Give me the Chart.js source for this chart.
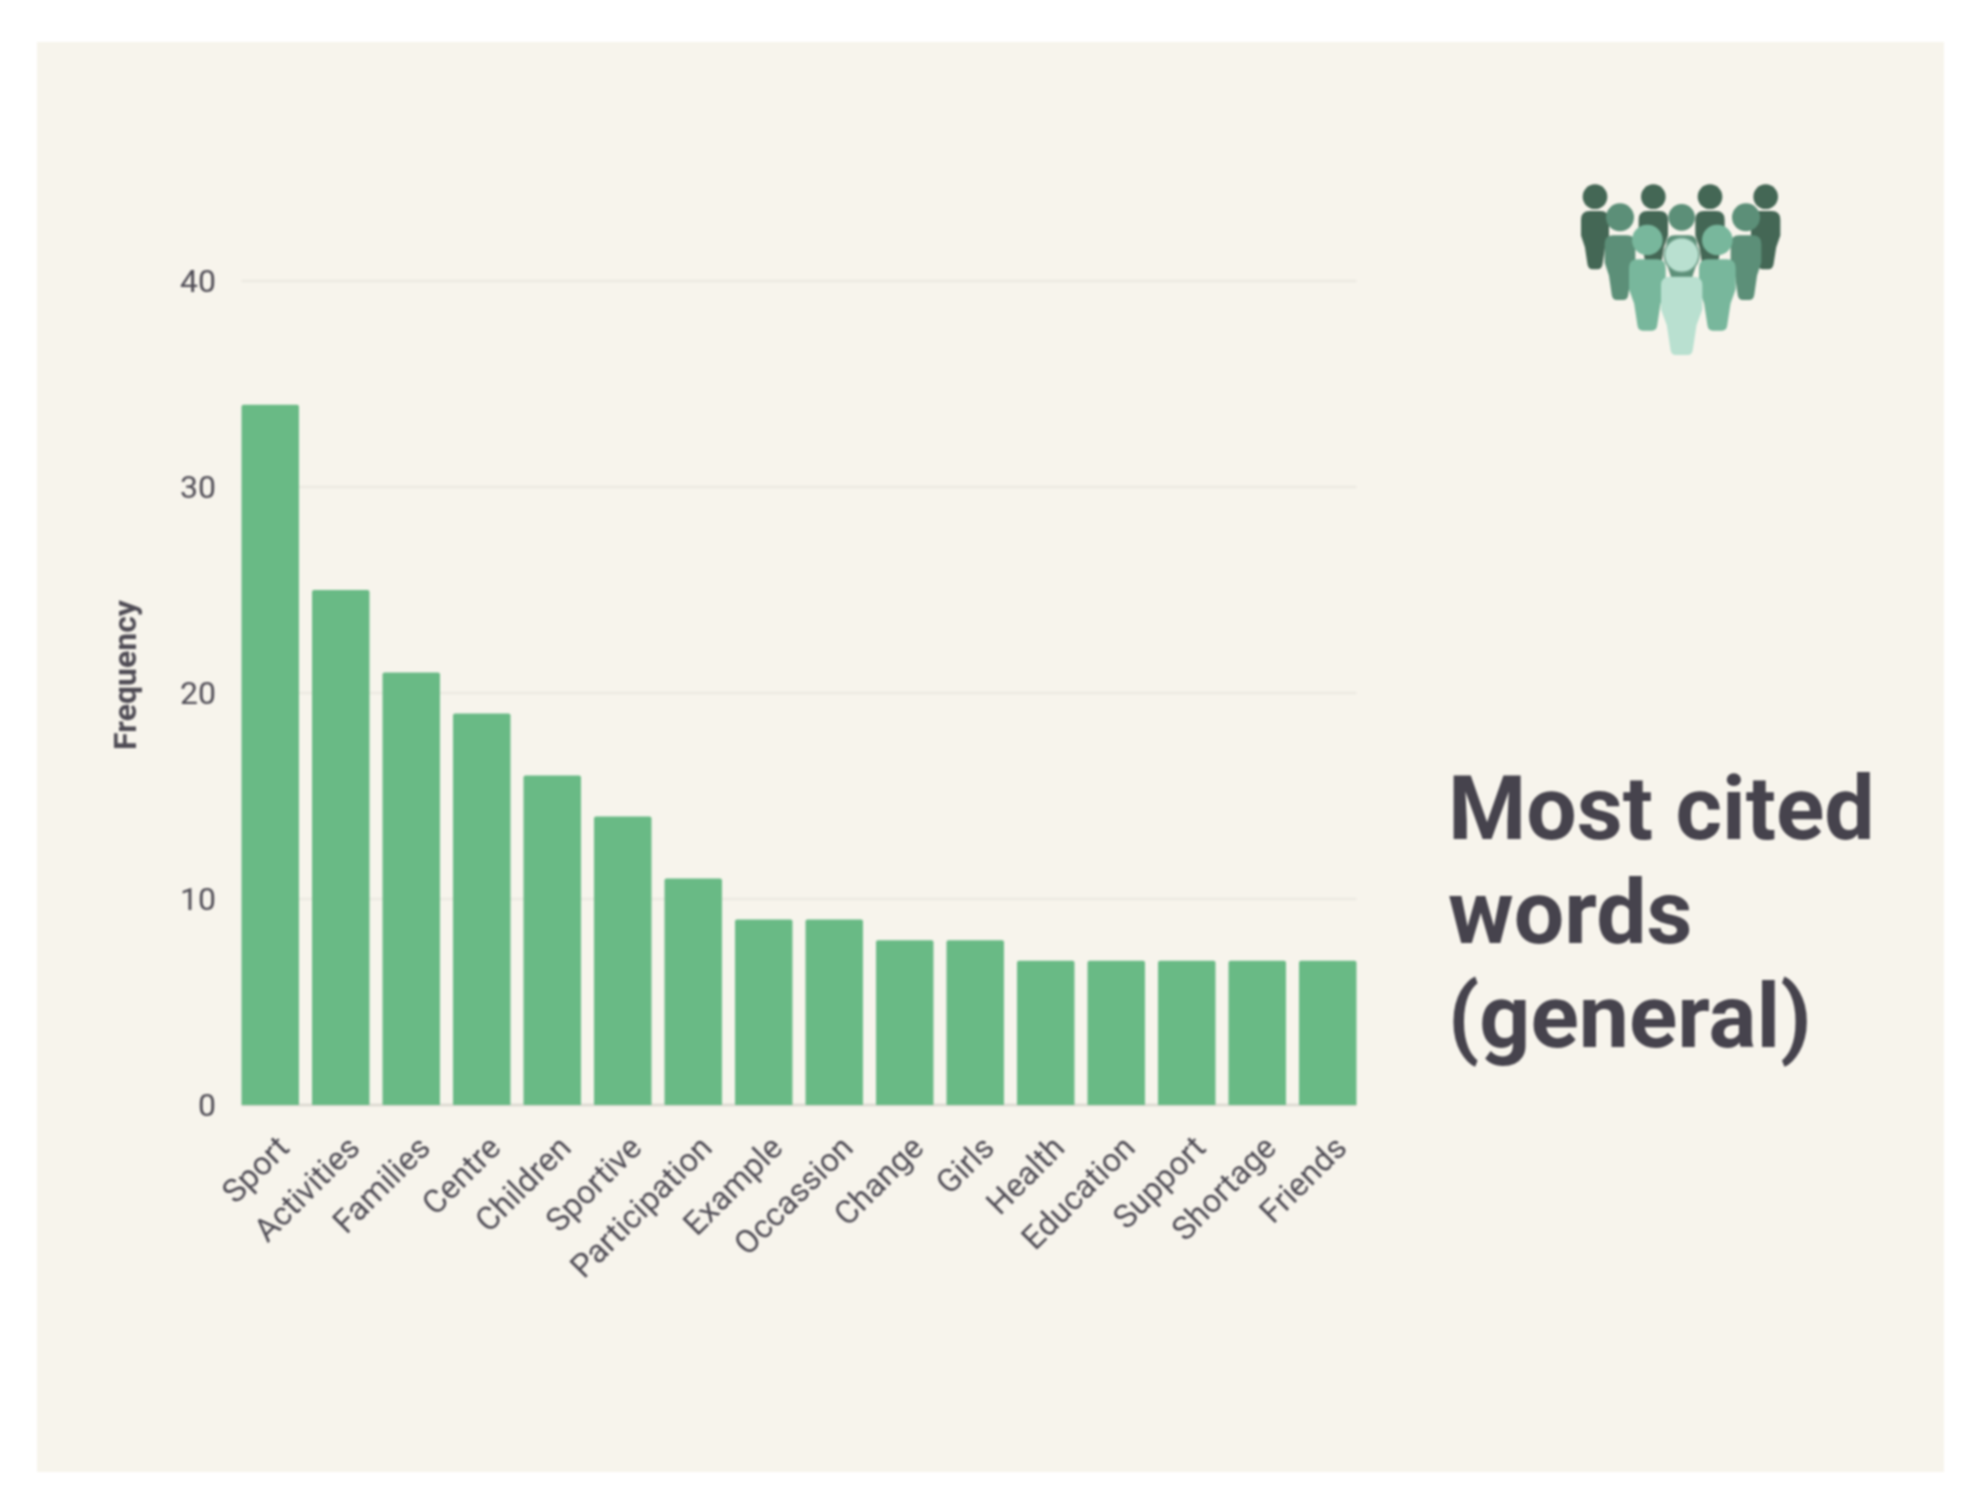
<!DOCTYPE html>
<html>
<head>
<meta charset="utf-8">
<title>Most cited words (general)</title>
<script src="https://cdn.jsdelivr.net/npm/chart.js@4"></script>
<style>
    html, body { margin: 0; padding: 0; background: #ffffff; }
    #page { position: relative; width: 1983px; height: 1510px; overflow: hidden; filter: blur(0.9px); }
    #panel { position: absolute; left: 37px; top: 42px; width: 1907px; height: 1430px; background: #f7f4ec; }
    #chart { position: absolute; left: 0; top: 0; }
    #icon { position: absolute; left: 1540px; top: 160px; width: 280px; height: 210px; }
    #heading {
        position: absolute; left: 1448px; top: 757px;
        font: 700 89.5px/104px Roboto, sans-serif; color: #46434d;
    }
</style>
</head>
<body>
<div id="page">
    <div id="panel"></div>
    <canvas id="chart" width="1983" height="1510"></canvas>
    <svg id="icon" viewBox="0 0 840 630"></svg>
    <div id="heading">Most cited<br>words<br>(general)</div>
</div>

<script>
const categories = ["Sport", "Activities", "Families", "Centre", "Children", "Sportive", "Participation", "Example",
    "Occassion", "Change", "Girls", "Health", "Education", "Support", "Shortage", "Friends"];
const frequency = [34, 25, 21, 19, 16, 14, 11, 9, 9, 8, 8, 7, 7, 7, 7, 7];
const yTicks = [0, 10, 20, 30, 40];
const yAxisTop = 41.75;  // space above the 40 line, keeps the axis title where it was

const TEXT = "#4f4c55";

// gridlines only run from the first bar to the last one, not over the whole chart area
const shortGrid = {
    id: "shortGrid",
    beforeDatasetsDraw(chart) {
        const bars = chart.getDatasetMeta(0).data;
        const left = bars[0].x - bars[0].width / 2;
        const right = bars[bars.length - 1].x + bars[bars.length - 1].width / 2;
        const ctx = chart.ctx;
        ctx.save();
        yTicks.forEach(v => {
            const y = chart.scales.y.getPixelForValue(v);
            ctx.strokeStyle = v === 0 ? "#dedbd3" : "#eeebe3";
            ctx.lineWidth = 3;
            ctx.beginPath();
            ctx.moveTo(left, y);
            ctx.lineTo(right, y);
            ctx.stroke();
        });
        ctx.restore();
    }
};

new Chart(document.getElementById("chart").getContext("2d"), {
    type: "bar",
    data: {
        labels: categories,
        datasets: [{
            label: "Frequency",
            data: frequency,
            backgroundColor: "#69ba85",
            borderRadius: 2,
            borderSkipped: "bottom",
            barPercentage: 0.815,
            categoryPercentage: 1
        }]
    },
    options: {
        responsive: false,
        animation: false,
        devicePixelRatio: 1,
        layout: { padding: { left: 0, top: 245, right: 620, bottom: 0 } },
        plugins: { legend: { display: false }, tooltip: { enabled: false } },
        scales: {
            x: {
                grid: { display: false },
                border: { display: false },
                afterFit: s => { s.height = 405; },
                ticks: {
                    autoSkip: false,
                    minRotation: 45,
                    maxRotation: 45,
                    padding: 17,
                    labelOffset: 15,
                    color: TEXT,
                    font: { family: "Roboto", size: 32.5 }
                }
            },
            y: {
                min: 0,
                max: yAxisTop,
                grid: { display: false },
                border: { display: false },
                afterFit: s => { s.width = 235; },
                afterBuildTicks: s => { s.ticks = yTicks.map(value => ({ value })); },
                ticks: {
                    padding: 11,
                    labelOffset: 3,
                    color: TEXT,
                    font: { family: "Roboto", size: 32 }
                },
                title: {
                    display: true,
                    text: "Frequency",
                    color: TEXT,
                    padding: { top: 109, bottom: 0 },
                    font: { family: "Roboto", size: 32, weight: "bold" }
                }
            }
        }
    },
    plugins: [shortGrid]
});

// little crowd icon, back row first
const people = [
    { x: 165, head: 110, r: 37, top: 153, half: 42, foot: 328, color: "#446755" },
    { x: 340, head: 110, r: 37, top: 153, half: 44, foot: 328, color: "#446755" },
    { x: 510, head: 110, r: 37, top: 153, half: 44, foot: 328, color: "#446755" },
    { x: 677, head: 110, r: 37, top: 153, half: 44, foot: 328, color: "#446755" },
    { x: 240, head: 172, r: 42, top: 226, half: 46, foot: 420, color: "#5c8f78" },
    { x: 425, head: 172, r: 40, top: 226, half: 46, foot: 420, color: "#5c8f78" },
    { x: 618, head: 172, r: 42, top: 226, half: 46, foot: 420, color: "#5c8f78" },
    { x: 322, head: 240, r: 46, top: 298, half: 55, foot: 512, color: "#78b79c" },
    { x: 532, head: 240, r: 46, top: 298, half: 55, foot: 512, color: "#78b79c" },
    { x: 425, head: 285, r: 52, top: 350, half: 62, foot: 585, color: "#b9e0d0", ring: "#6f9f8a" }
];

function personMarkup(p) {
    const h = p.foot - p.top;
    const waist = p.top + h * 0.42;
    const knee = p.top + h * 0.62;
    const hip = p.half * 0.72;
    const ankle = p.half * 0.54;
    const c = 26;  // shoulder rounding
    const body = `M${p.x - p.half + c} ${p.top} H${p.x + p.half - c} Q${p.x + p.half} ${p.top} ${p.x + p.half} ${p.top + c}`
        + ` V${waist} L${p.x + hip} ${knee} L${p.x + ankle} ${p.foot - 16} Q${p.x + ankle - 2} ${p.foot} ${p.x + ankle - 16} ${p.foot}`
        + ` H${p.x - ankle + 16} Q${p.x - ankle + 2} ${p.foot} ${p.x - ankle} ${p.foot - 16}`
        + ` L${p.x - hip} ${knee} L${p.x - p.half} ${waist} V${p.top + c} Q${p.x - p.half} ${p.top} ${p.x - p.half + c} ${p.top} Z`;
    const ring = p.ring ? `stroke="${p.ring}" stroke-width="5"` : "";
    return `<path d="${body}" fill="${p.color}"/><circle cx="${p.x}" cy="${p.head}" r="${p.r}" fill="${p.color}" ${ring}/>`;
}

document.getElementById("icon").innerHTML = people.map(personMarkup).join("");
</script>
</body>
</html>
